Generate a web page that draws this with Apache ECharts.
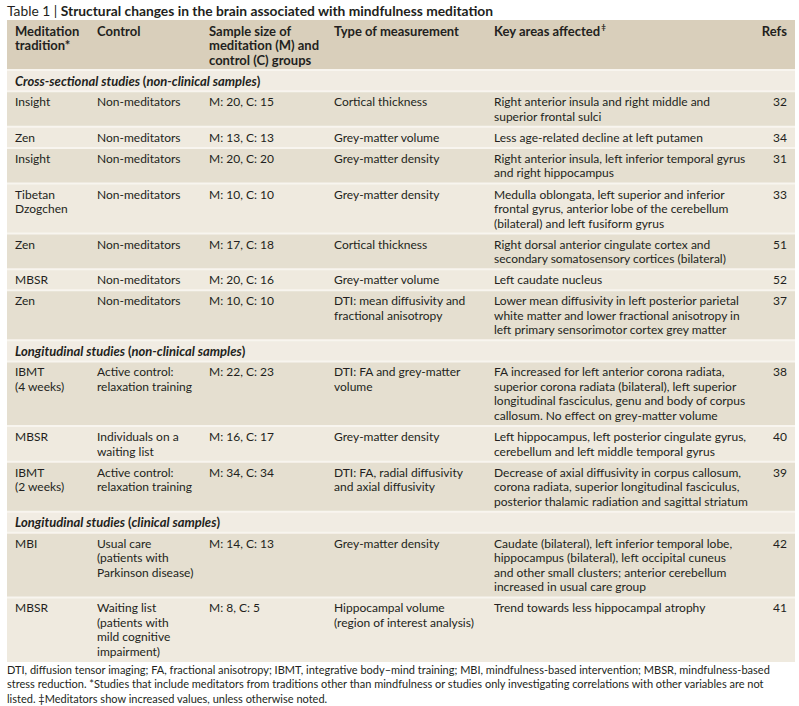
<!DOCTYPE html>
<html><head><meta charset="utf-8">
<script src="https://cdn.jsdelivr.net/npm/echarts@6/dist/echarts.min.js"></script>
<style>html,body{margin:0;padding:0;background:#fff}#c{width:799px;height:706px}</style>
</head><body><div id="c"></div>
<script>
// ---------- content ----------
const titleLabel = 'Table 1 | ';
const titleText = 'Structural changes in the brain associated with mindfulness meditation';
const headers = ['Meditation\ntradition*', 'Control', 'Sample size of\nmeditation (M) and\ncontrol (C) groups', 'Type of measurement', 'Key areas affected', 'Refs'];
const headerMark = '\u2021';
const sectionTitles = [['Cross-sectional studies', 'non-clinical samples'], ['Longitudinal studies', 'non-clinical samples'], ['Longitudinal studies', 'clinical samples']];
const sectionStarts = [0, 7, 10];
const traditions = ['Insight', 'Zen', 'Insight', 'Tibetan\nDzogchen', 'Zen', 'MBSR', 'Zen', 'IBMT\n(4 weeks)', 'MBSR', 'IBMT\n(2 weeks)', 'MBI', 'MBSR'];
const controls = ['Non-meditators', 'Non-meditators', 'Non-meditators', 'Non-meditators', 'Non-meditators', 'Non-meditators', 'Non-meditators', 'Active control:\nrelaxation training', 'Individuals on a\nwaiting list', 'Active control:\nrelaxation training', 'Usual care\n(patients with\nParkinson disease)', 'Waiting list\n(patients with\nmild cognitive\nimpairment)'];
const samples = ['M: 20, C: 15', 'M: 13, C: 13', 'M: 20, C: 20', 'M: 10, C: 10', 'M: 17, C: 18', 'M: 20, C: 16', 'M: 10, C: 10', 'M: 22, C: 23', 'M: 16, C: 17', 'M: 34, C: 34', 'M: 14, C: 13', 'M: 8, C: 5'];
const measures = ['Cortical thickness', 'Grey-matter volume', 'Grey-matter density', 'Grey-matter density', 'Cortical thickness', 'Grey-matter volume', 'DTI: mean diffusivity and\nfractional anisotropy', 'DTI: FA and grey-matter\nvolume', 'Grey-matter density', 'DTI: FA, radial diffusivity\nand axial diffusivity', 'Grey-matter density', 'Hippocampal volume\n(region of interest analysis)'];
const areas = [
  'Right anterior insula and right middle and\nsuperior frontal sulci',
  'Less age-related decline at left putamen',
  'Right anterior insula, left inferior temporal gyrus\nand right hippocampus',
  'Medulla oblongata, left superior and inferior\nfrontal gyrus, anterior lobe of the cerebellum\n(bilateral) and left fusiform gyrus',
  'Right dorsal anterior cingulate cortex and\nsecondary somatosensory cortices (bilateral)',
  'Left caudate nucleus',
  'Lower mean diffusivity in left posterior parietal\nwhite matter and lower fractional anisotropy in\nleft primary sensorimotor cortex grey matter',
  'FA increased for left anterior corona radiata,\nsuperior corona radiata (bilateral), left superior\nlongitudinal fasciculus, genu and body of corpus\ncallosum. No effect on grey-matter volume',
  'Left hippocampus, left posterior cingulate gyrus,\ncerebellum and left middle temporal gyrus',
  'Decrease of axial diffusivity in corpus callosum,\ncorona radiata, superior longitudinal fasciculus,\nposterior thalamic radiation and sagittal striatum',
  'Caudate (bilateral), left inferior temporal lobe,\nhippocampus (bilateral), left occipital cuneus\nand other small clusters; anterior cerebellum\nincreased in usual care group',
  'Trend towards less hippocampal atrophy'
];
const refs = ['32', '34', '31', '33', '51', '52', '37', '38', '40', '39', '42', '41'];
const footnote = 'DTI, diffusion tensor imaging; FA, fractional anisotropy; IBMT, integrative body\u2013mind training; MBI, mindfulness-based intervention; MBSR, mindfulness-based\nstress reduction. *Studies that include meditators from traditions other than mindfulness or studies only investigating correlations with other variables are not\nlisted. \u2021Meditators show increased values, unless otherwise noted.';

// ---------- layout / style ----------
const FONT = 'Lato, "Noto Sans", sans-serif';
const TXT = '#231f20';
const LINE = 14.5, PAD = 6.6;
const TABLE_W = 788;
const colX = [8, 90, 202, 327, 487];   // text left offsets inside table (axis units)
const refsRight = 780;
const C_HEAD = '#d9cfbb', C_DARK = '#e5dfd0', C_LIGHT = '#efeadf', C_SEC = '#f1ece3', C_SEP = '#f8f5ef';
const BODY_SIZE = 12, HEAD_SIZE = 13;

const nLines = s => s.split('\n').length;
const display = [];
display.push({kind: 'header', lines: 3});
for (let i = 0; i < traditions.length; i++) {
  const si = sectionStarts.indexOf(i);
  if (si >= 0) display.push({kind: 'section', lines: 1, sec: si});
  const start = Math.max(...sectionStarts.filter(s => s <= i));
  const cells = [traditions[i], controls[i], samples[i], measures[i], areas[i]];
  display.push({kind: 'data', idx: i, shade: (i - start) % 2 === 0 ? C_DARK : C_LIGHT,
    lines: Math.max(...cells.map(nLines))});
}
let acc = 0;
display.forEach(r => { r.y0 = acc; acc += r.lines * LINE + PAD; r.y1 = acc; });
const TOTAL = acc;

const chart = echarts.init(document.getElementById('c'), null, {renderer: 'svg'});

function renderItem(params, api) {
  const r = display[api.value(0)];
  const p0 = api.coord([0, api.value(1)]);
  const p1 = api.coord([TABLE_W, api.value(2)]);
  const top = p0[1];
  const children = [];
  const fill = r.kind === 'header' ? C_HEAD : (r.kind === 'section' ? C_SEC : r.shade);
  children.push({type: 'rect', shape: {x: p0[0], y: top, width: p1[0] - p0[0], height: p1[1] - top}, style: {fill: fill}});
  if (r.kind !== 'header') {
    children.push({type: 'rect', shape: {x: p0[0], y: top - 1, width: p1[0] - p0[0], height: 2}, style: {fill: C_SEP}});
  }
  const ty = top + PAD / 2;
  const cx = k => api.coord([colX[k], 0])[0];
  const rx = api.coord([refsRight, 0])[0];
  if (r.kind === 'header') {
    headers.forEach((h, k) => {
      const style = {text: h, fill: TXT, fontFamily: FONT, fontWeight: 'bold', fontSize: HEAD_SIZE, lineHeight: LINE, align: k === 5 ? 'right' : 'left', verticalAlign: 'top'};
      if (k === 4) {
        style.text = '{h|' + h + '}{s|' + headerMark + '}';
        style.rich = {h: {fontFamily: FONT, fontWeight: 'bold', fontSize: HEAD_SIZE, fill: TXT, lineHeight: LINE},
                      s: {fontFamily: FONT, fontWeight: 'bold', fontSize: 8, fill: TXT, lineHeight: LINE, verticalAlign: 'top', padding: [0, 0, 4, 1]}};
      }
      children.push({type: 'text', x: k === 5 ? rx : cx(k), y: ty, style: style});
    });
  } else if (r.kind === 'section') {
    const s = sectionTitles[r.sec];
    children.push({type: 'text', x: cx(0), y: ty, style: {
      text: '{bi|' + s[0] + ' }{bp|(}{bi|' + s[1] + '}{bp|)}', fill: TXT, fontFamily: FONT, fontSize: HEAD_SIZE, lineHeight: LINE, verticalAlign: 'top',
      rich: {bi: {fontFamily: FONT, fontSize: HEAD_SIZE, fontWeight: 'bold', fontStyle: 'italic', fill: TXT, lineHeight: LINE},
             bp: {fontFamily: FONT, fontSize: HEAD_SIZE, fontWeight: 'bold', fill: TXT, lineHeight: LINE}}}});
  } else {
    const i = r.idx;
    const cells = [traditions[i], controls[i], samples[i], measures[i], areas[i]];
    cells.forEach((t, k) => {
      children.push({type: 'text', x: cx(k), y: ty, style: {text: t, fill: TXT, fontFamily: FONT, fontSize: BODY_SIZE, lineHeight: LINE, align: 'left', verticalAlign: 'top'}});
    });
    children.push({type: 'text', x: rx, y: ty, style: {text: refs[i], fill: TXT, fontFamily: FONT, fontSize: BODY_SIZE, lineHeight: LINE, align: 'right', verticalAlign: 'top'}});
  }
  return {type: 'group', children: children};
}

chart.setOption({
  backgroundColor: '#ffffff',
  animation: false,
  title: [
    {left: 7, top: 3, padding: 0, text: '{r|' + titleLabel + '}{b|' + titleText + '}',
     textStyle: {rich: {
       r: {fontFamily: FONT, fontSize: 13.8, color: TXT, fontWeight: 'normal'},
       b: {fontFamily: FONT, fontSize: 13.8, color: TXT, fontWeight: 'bold'}}}},
    {left: 7, top: 662, padding: 0, text: footnote,
     textStyle: {fontFamily: FONT, fontSize: 11, fontWeight: 'normal', color: TXT, lineHeight: 14.5}}
  ],
  grid: {left: 7, right: 4, top: 20, bottom: 44},
  xAxis: {type: 'value', min: 0, max: TABLE_W, show: false},
  yAxis: {type: 'value', min: 0, max: TOTAL, inverse: true, show: false},
  series: [{
    type: 'custom',
    renderItem: renderItem,
    data: display.map((r, k) => [k, r.y0, r.y1]),
    clip: false,
    silent: true
  }]
});
</script></body></html>
